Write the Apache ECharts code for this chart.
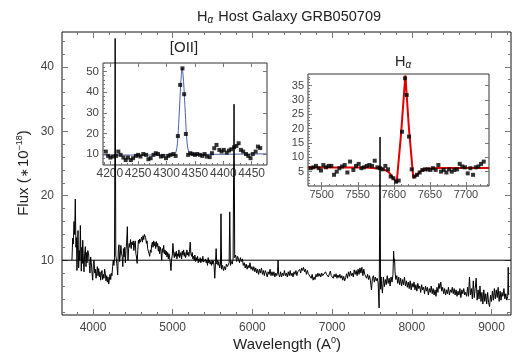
<!DOCTYPE html>
<html><head><meta charset="utf-8">
<script src="https://cdn.jsdelivr.net/npm/echarts@6/dist/echarts.min.js"></script>
<style>html,body{margin:0;padding:0;background:#fff}#c{width:513px;height:356px}</style>
</head><body><div id="c"></div>
<script>
// ---------- main spectrum (wavelength in Angstrom, flux in 1e-18) ----------
const specA = [[3736,10.0],[3745,13.4],[3752,12.5],[3762,16.0],[3770,14.0],[3778,19.5],[3786,12.0],[3792,13.5],[3799,8.4],[3806,12.5],[3812,14.6],[3820,8.8],[3828,11.5],[3835,10.0],[3841,15.4],[3848,11.0],[3853,8.3],[3860,12.0],[3866,9.5],[3871,13.1],[3878,10.5],[3887,8.2],[3895,11.0],[3904,12.1],[3912,9.0],[3918,11.2],[3925,9.6],[3935,11.5],[3946,10.8],[3954,9.2],[3962,8.0],[3970,10.5],[3979,9.6],[3988,8.0],[3996,6.9],[4005,9.5],[4013,10.0],
[4022,8.0],[4030,8.6],[4038,7.2],[4046,8.0],[4055,9.0],[4063,7.6],[4071,8.7],[4080,7.4],[4088,8.2],[4096,6.9],[4105,8.0],[4113,8.4],[4121,7.0],[4130,7.8],[4138,7.2],[4146,8.6],[4155,7.9],[4163,6.8],[4172,7.6],[4180,6.6],[4188,7.4],[4197,6.3],[4205,6.9],[4213,7.8],[4222,7.0],[4230,8.0],[4238,7.6],[4246,9.0],[4254,10.0],[4262,9.2],[4270,10.4],[4278,44.4],[4286,10.8],[4294,10.0],
[4302,9.0],[4310,7.7],[4318,11.6],[4326,12.4],[4334,9.8],[4342,10.8],[4350,12.3],[4358,11.0],[4366,10.6],[4374,9.0],[4382,11.8],[4390,10.5],[4398,12.0],[4406,9.6],[4414,11.5],[4422,12.8],[4431,15.2],[4439,10.0],[4447,11.8],[4455,12.6],[4463,12.0],[4471,13.2],[4480,11.8],[4488,12.8],[4496,12.4],[4505,13.0],[4513,11.5],[4521,12.5],[4530,13.0],[4538,11.0],[4546,10.5],[4554,9.5],[4562,11.5],[4570,13.1],[4578,12.6],[4586,13.3],[4594,12.8]];
const specB = [[4603,13.0],[4612,13.6],[4620,12.8],[4628,13.8],[4637,13.2],[4645,14.0],[4653,14.2],[4661,13.5],[4670,12.6],[4678,13.0],[4686,11.8],[4695,12.0],[4703,11.0],[4711,10.6],[4720,11.6],[4728,11.2],[4736,12.4],[4745,12.8],[4753,12.0],[4761,13.0],[4770,12.2],[4778,12.8],[4786,11.8],[4795,12.9],[4803,12.1],[4811,12.6],[4820,11.4],[4828,12.2],[4836,11.0],[4845,12.0],[4853,11.4],[4862,10.0],[4870,11.8],[4878,11.2],[4887,12.3],[4895,11.0],[4903,11.6],[4912,10.8],[4920,11.4],[4928,10.5],[4937,11.2],[4945,10.2],[4953,11.0],[4962,10.4],[4970,9.6],[4978,8.4],[4987,10.2],[4995,10.8],[5003,12.6],[5012,11.0],[5020,10.4],[5028,11.2],[5037,10.6],[5045,11.4],[5053,10.2],[5062,11.0],[5070,10.6],[5078,11.6],[5087,10.4],[5095,10.8],[5103,11.2],[5112,10.2],[5120,11.4],[5128,10.8],[5137,11.6],[5145,10.6],[5153,11.2],[5162,10.4],[5170,10.8],[5178,11.6],[5187,10.8],[5195,11.2],[5203,10.6],[5212,11.6],[5220,12.8],[5228,11.0],[5237,10.6],[5245,11.2],[5253,10.2],[5262,10.6],[5270,10.0],[5278,10.8],[5287,9.8],[5295,10.4],[5303,10.0],[5312,10.6],[5320,9.6],[5328,10.2],[5337,9.8],[5345,10.4],[5353,9.6],[5362,10.2],[5370,9.8],[5378,10.6],[5387,9.7],[5395,10.0],[5403,9.4],[5412,10.2],[5420,9.6],[5428,10.0],[5437,9.2],[5445,10.4],[5453,9.6],[5462,10.0],[5470,9.4],[5478,9.8],[5487,9.2],[5495,10.0],[5503,9.4],[5512,9.9],[5520,9.0],[5528,7.2],[5537,9.6],[5545,11.8],[5553,9.4],[5562,10.0],[5570,9.2],[5578,9.8]];
const specC = [[5590,8.8],[5600,9.4],[5606,17.2],[5614,8.6],[5626,9.2],[5638,8.4],[5650,9.0],[5662,8.5],[5674,9.4],[5686,9.0],[5698,8.8],[5708,9.6],[5716,17.5],[5724,9.2],[5736,9.8],[5748,9.4],[5758,10.2],[5770,34.2],[5778,10.4],[5790,10.8],[5802,9.8],[5814,10.6],[5826,10.2],[5838,9.6],[5850,10.4],[5862,9.8],[5874,10.2],[5886,9.2],[5898,9.6],[5910,8.8],[5922,9.4],[5934,8.6],[5946,9.2],[5958,8.8],[5970,9.6],[5982,8.6],[5994,9.0],
[6006,8.4],[6018,9.0],[6030,8.2],[6042,8.8],[6054,8.0],[6066,8.6],[6078,7.8],[6090,8.6],[6102,8.0],[6114,8.8],[6126,7.8],[6138,8.4],[6150,7.6],[6162,8.4],[6174,8.0],[6186,7.4],[6198,8.2],[6210,7.8],[6222,8.6],[6234,7.6],[6246,8.2],[6258,7.6],[6270,8.2],[6282,7.4],[6294,8.0],[6306,7.6],[6316,8.2],[6322,10.0],[6330,7.8],[6342,7.4],[6354,8.2],[6366,7.4],[6378,8.0],[6390,7.6],[6402,8.4],[6414,7.6],[6426,8.0],[6438,7.4],[6450,8.2],[6462,7.6],[6474,8.4],[6486,7.6],[6498,8.0],[6510,7.4],[6522,8.2],[6534,7.8],[6546,8.4],[6558,7.6],[6570,8.2]];
const specD = [[6582,8.2],[6594,8.6],[6606,8.0],[6618,8.8],[6630,8.4],[6642,8.9],[6654,8.2],[6666,8.6],[6678,7.8],[6690,8.4],[6702,7.9],[6714,8.2],[6726,7.6],[6738,7.2],[6750,7.8],[6762,6.9],[6774,7.4],[6786,7.0],[6798,7.8],[6810,7.4],[6822,8.0],[6834,7.5],[6846,7.9],[6858,7.4],[6870,8.0],[6882,7.6],[6894,7.9],[6906,7.3],[6918,8.2],[6930,7.8],[6942,8.1],[6954,7.4],[6966,7.9],[6978,8.3],[6990,7.6],[7002,7.9],[7014,7.2],[7026,7.8],[7038,7.4],[7050,7.9],[7062,7.2],[7074,7.7],[7086,7.3],[7098,7.8],[7110,7.2],[7122,7.6],[7134,6.9],[7146,7.5],[7158,6.8],[7170,7.3],[7182,7.9],[7194,7.2],[7206,8.2],[7218,7.5],[7230,8.3],[7242,7.6],[7254,8.0],[7266,7.4],[7278,8.5],[7290,7.8],[7302,8.4],[7314,7.6],[7326,8.6],[7338,7.8],[7350,8.8],[7362,8.0],[7374,8.9],[7386,7.6],[7398,8.6],[7410,7.8],[7422,7.9],[7434,7.2],[7446,7.8],[7458,7.0],[7470,7.6],[7482,6.8],[7494,5.4],[7506,7.2],[7518,7.6],[7530,6.6],[7542,7.4],[7554,6.8],[7566,7.2],[7578,6.5],[7590,2.6],[7596,14.2],[7602,29.1],[7608,5.5],[7616,7.4]];
const specE = [[7620,6.2],[7632,4.9],[7644,7.4],[7656,5.9],[7668,7.0],[7680,6.2],[7692,7.6],[7704,6.4],[7716,7.2],[7728,6.0],[7740,7.4],[7752,6.6],[7764,7.8],[7772,11.4],[7778,9.8],[7784,10.2],[7790,8.2],[7800,7.0],[7812,7.6],[7824,6.4],[7836,7.4],[7848,6.2],[7860,7.2],[7872,6.0],[7884,7.0],[7896,6.2],[7908,7.4],[7920,6.0],[7932,6.8],[7944,5.8],[7956,6.6],[7968,5.6],[7980,6.8],[7992,5.4],[8004,6.4],[8016,5.8],
[8028,6.6],[8040,5.4],[8052,6.2],[8064,5.2],[8076,6.4],[8088,5.6],[8100,6.0],[8112,5.0],[8124,6.2],[8136,5.4],[8148,5.8],[8160,4.8],[8172,6.0],[8184,5.2],[8196,5.8],[8208,4.6],[8220,5.6],[8232,5.0],[8244,6.0],[8256,4.8],[8268,5.6],[8280,4.6],[8292,5.4],[8304,4.4],[8316,5.8],[8328,5.0],[8340,6.4],[8352,5.6],[8364,6.6],[8376,5.2],[8388,5.8],[8400,4.8],[8412,5.6],[8424,4.6],[8436,5.4],[8448,4.8],[8460,5.8],[8472,4.6],[8484,5.4],[8496,5.0],[8508,5.8],[8520,4.8],[8532,5.6],[8544,4.6],[8556,5.4],[8568,4.4],[8580,5.2],[8592,4.6],[8604,5.6],[8616,4.2],[8628,5.4],[8640,4.8],[8652,5.6],[8664,4.6],[8676,5.0],[8688,4.4],[8700,5.8],[8712,4.4],[8724,7.4],[8736,4.6],[8748,5.6],[8760,4.0],[8772,6.8],[8784,4.2],[8796,5.6],[8808,7.2],[8820,3.8],[8832,5.4],[8844,4.0],[8856,6.0],[8868,3.6],[8880,5.0],[8892,3.2],[8904,5.4],[8916,3.6],[8928,4.8],[8940,3.2],[8952,5.0],[8964,3.4],[8976,2.8],[8988,4.6],[9000,3.6],[9012,5.2],[9024,3.8],[9036,5.6],[9048,4.0],[9060,5.4],[9072,4.2],[9084,5.8],[9096,3.6],[9108,5.2],[9120,3.8],[9132,5.0],[9144,4.4],[9156,5.6],[9168,4.0],[9180,4.8],[9192,3.8],[9204,4.4],[9210,8.9],[9216,4.6]];
const refLevel = 10;

// ---------- [OII] inset ----------
const oiiPts = [[4193,11.3],[4197,9.2],[4201,8.4],[4206,8.9],[4211,9.2],[4215,11.3],[4219,9.7],[4224,8.4],[4228,7.2],[4232,8.4],[4237,7.2],[4241,8.1],[4246,9.2],[4250,9.7],[4254,8.9],[4259,10.1],[4264,9.7],[4268,7.6],[4272,8.1],[4277,9.7],[4281,10.5],[4285,10.1],[4290,8.9],[4294,9.2],[4299,8.1],[4303,9.2],[4307,9.7],[4312,10.1],[4316,9.2],[4320,18.8],[4324,43.5],[4328,51.5],[4331,39.0],[4334,19.8],[4338,9.7],[4342,10.5],[4346,10.1],[4350,9.7],[4354,10.1],[4359,9.7],[4363,9.2],[4367,10.1],[4371,8.9],[4376,8.6],[4380,10.5],[4384,12.9],[4388,14.5],[4393,12.1],[4397,11.3],[4401,12.1],[4406,10.8],[4410,11.8],[4414,12.4],[4419,13.4],[4423,14.0],[4427,15.3],[4431,12.1],[4435,11.3],[4440,10.1],[4444,9.2],[4448,8.1],[4452,10.1],[4457,11.3],[4461,13.7],[4465,13.0]];
const oiiFit = [[4188,9.6],[4312,9.7],[4316,10.6],[4319,15],[4322,28],[4325,44],[4327.5,51.5],[4330,45],[4333,30],[4336,16],[4339,11],[4342,9.9],[4477,10.2]];

// ---------- H-alpha inset ----------
const haPts = [[7484.7,6.2],[7488.4,6.5],[7492.1,7.0],[7495.8,6.2],[7499.0,5.4],[7502.3,7.3],[7506.0,6.5],[7509.7,7.0],[7513.4,7.0],[7517.1,3.9],[7520.8,5.0],[7524.5,6.2],[7528.2,6.8],[7531.9,7.3],[7535.6,4.7],[7539.3,8.5],[7543.9,5.6],[7547.6,7.0],[7551.3,7.7],[7555.0,6.2],[7558.7,6.5],[7562.4,7.0],[7566.1,7.3],[7569.8,7.0],[7573.5,8.8],[7577.2,6.5],[7580.9,6.2],[7584.6,5.8],[7588.3,7.0],[7592.0,5.8],[7595.7,3.3],[7599.4,2.7],[7603.1,1.5],[7606.8,1.9],[7611.4,18.9],[7615.6,37.5],[7617.9,31.7],[7621.1,17.2],[7624.8,5.8],[7628.5,3.3],[7632.2,3.9],[7635.9,4.7],[7639.6,5.6],[7643.3,5.8],[7647.0,5.8],[7650.7,5.6],[7654.4,6.2],[7658.1,5.6],[7661.8,7.3],[7665.5,5.0],[7669.2,5.6],[7672.9,4.7],[7676.6,5.8],[7680.3,5.0],[7684.0,5.6],[7687.7,5.8],[7691.4,7.7],[7695.1,6.8],[7698.8,6.5],[7702.5,4.4],[7706.2,6.2],[7709.9,3.9],[7713.6,6.5],[7717.3,6.8],[7721.0,7.7],[7724.7,8.5]];
const haFit = [[7481,6.4],[7560,6.4],[7585,6.0],[7593,4.8],[7600,2.5],[7604,1.3],[7610,18],[7616,38.5],[7621,20],[7627,2.8],[7632,3.8],[7637,5.2],[7645,6.0],[7660,6.3],[7732,6.3]];

// ---------- tick values ----------
const mainXLabels = [4000,5000,6000,7000,8000,9000];
const mainXMinor = [3800,4200,4400,4600,4800,5200,5400,5600,5800,6200,6400,6600,6800,7200,7400,7600,7800,8200,8400,8600,8800,9200];
const mainYLabels = [10,20,30,40];
const mainYMinor = [2,4,6,8,12,14,16,18,22,24,26,28,32,34,36,38,42,44];
const oiiXLabels = [4200,4250,4300,4350,4400,4450];
const oiiXMinor = [4190,4210,4220,4230,4240,4260,4270,4280,4290,4310,4320,4330,4340,4360,4370,4380,4390,4410,4420,4430,4440,4460,4470];
const oiiYLabels = [10,20,30,40,50];
const oiiYMinor = [6,8,12,14,16,18,22,24,26,28,32,34,36,38,42,44,46,48,52,54];
const haXLabels = [7500,7550,7600,7650,7700];
const haXMinor = [7490,7510,7520,7530,7540,7560,7570,7580,7590,7610,7620,7630,7640,7660,7670,7680,7690,7710,7720,7730];
const haYLabels = [5,10,15,20,25,30,35];
const haYMinor = [1,2,3,4,6,7,8,9,11,12,13,14,16,17,18,19,21,22,23,24,26,27,28,29,31,32,33,34,36,37,38];

const FONT = 'Liberation Sans, Arial, sans-serif';
const TICKC = '#777';
function ax(grid, pos, min, max, labels, ticks, len, showLabel, fs, margin) {
  return {
    type: 'value', gridIndex: grid, position: pos, min: min, max: max, offset: 0,
    axisLine: {show: false}, splitLine: {show: false},
    axisTick: {show: true, inside: true, length: len, customValues: ticks, lineStyle: {color: TICKC, width: 1}},
    axisLabel: {show: showLabel, customValues: labels, fontSize: fs, color: '#444', fontFamily: FONT, margin: margin,
      formatter: function (v) { return String(v); }}
  };
}
const X = [
  ax(0,'bottom',3611,9245,mainXLabels,mainXLabels,6,true,12,7),
  ax(0,'bottom',3611,9245,[],mainXMinor,3,false,12,7),
  ax(0,'top',3611,9245,[],mainXLabels,6,false,12,7),
  ax(0,'top',3611,9245,[],mainXMinor,3,false,12,7),
  ax(1,'bottom',4188,4477,oiiXLabels,oiiXLabels,4,true,12,3),
  ax(1,'bottom',4188,4477,[],oiiXMinor,2,false,12,3),
  ax(1,'top',4188,4477,[],oiiXLabels,4,false,12,3),
  ax(2,'bottom',7481,7732,haXLabels,haXLabels,4,true,11,3),
  ax(2,'bottom',7481,7732,[],haXMinor,2,false,11,3),
  ax(2,'top',7481,7732,[],haXLabels,4,false,11,3)
];
const Y = [
  ax(0,'left',1.5,45.4,mainYLabels,mainYLabels,6,true,12,8),
  ax(0,'left',1.5,45.4,[],mainYMinor,3,false,12,8),
  ax(0,'right',1.5,45.4,[],mainYLabels,6,false,12,8),
  ax(0,'right',1.5,45.4,[],mainYMinor,3,false,12,8),
  ax(1,'left',4.8,54.1,oiiYLabels,oiiYLabels,4,true,11.5,4),
  ax(1,'left',4.8,54.1,[],oiiYMinor,2,false,11.5,4),
  ax(1,'right',4.8,54.1,[],oiiYLabels,4,false,11.5,4),
  ax(2,'left',0,39,haYLabels,haYLabels,4,true,11,4),
  ax(2,'left',0,39,[],haYMinor,2,false,11,4),
  ax(2,'right',0,39,[],haYLabels,4,false,11,4)
];

const chart = echarts.init(document.getElementById('c'), null, {renderer: 'canvas'});
chart.setOption({
  animation: false,
  backgroundColor: '#fff',
  grid: [
    {left: 62, top: 32, width: 449, height: 283, show: true, borderColor: '#111', borderWidth: 1, backgroundColor: 'transparent', containLabel: false},
    {left: 103, top: 63, width: 164, height: 102, show: true, borderColor: '#333', borderWidth: 1, backgroundColor: '#fff'},
    {left: 308, top: 74, width: 181, height: 112, show: true, borderColor: '#333', borderWidth: 1, backgroundColor: '#fff'}
  ],
  xAxis: X,
  yAxis: Y,
  series: [
    {type: 'line', xAxisIndex: 0, yAxisIndex: 0, data: [[3611, refLevel], [9245, refLevel]], showSymbol: false, lineStyle: {color: '#000', width: 1}, z: 3},
    {type: 'line', xAxisIndex: 0, yAxisIndex: 0, data: specA.concat(specB, specC, specD, specE), showSymbol: false, sampling: null, lineStyle: {color: '#000', width: 1}, z: 6},
    {type: 'line', xAxisIndex: 4, yAxisIndex: 4, data: oiiFit, showSymbol: false, smooth: 0.3, lineStyle: {color: '#4a62a8', width: 1}, z: 4},
    {type: 'scatter', xAxisIndex: 4, yAxisIndex: 4, data: oiiPts, symbol: 'rect', symbolSize: 4, itemStyle: {color: '#000'}, z: 5},
    {type: 'line', xAxisIndex: 7, yAxisIndex: 7, data: haFit, showSymbol: false, lineStyle: {color: '#e00000', width: 2}, z: 4},
    {type: 'scatter', xAxisIndex: 7, yAxisIndex: 7, data: haPts, symbol: 'rect', symbolSize: 4, itemStyle: {color: '#000'}, z: 5}
  ],
  graphic: [
    {type: 'text', x: 289, y: 17, z: 10, style: {text: '{a|H}{s|α}{a| Host Galaxy GRB050709}', fill: '#222', align: 'center', verticalAlign: 'middle',
      rich: {a: {fontSize: 14.5, fontFamily: FONT, fill: '#222'}, s: {fontSize: 10, fontStyle: 'italic', fontFamily: FONT, fill: '#222', padding: [7, 1, 0, 0]}}}},
    {type: 'text', x: 184, y: 48, z: 10, style: {text: '[OII]', fill: '#222', fontSize: 15, fontFamily: FONT, align: 'center', verticalAlign: 'middle'}},
    {type: 'text', x: 403, y: 62, z: 10, style: {text: '{a|H}{s|α}', fill: '#222', align: 'center', verticalAlign: 'middle',
      rich: {a: {fontSize: 14.5, fontFamily: FONT, fill: '#222'}, s: {fontSize: 10, fontStyle: 'italic', fontFamily: FONT, fill: '#222', padding: [7, 0, 0, 0]}}}},
    {type: 'text', x: 287, y: 345, z: 10, style: {text: '{a|Wavelength (A}{s|0}{a|)}', fill: '#222', align: 'center', verticalAlign: 'middle',
      rich: {a: {fontSize: 15, fontFamily: FONT, fill: '#222'}, s: {fontSize: 9, fontFamily: FONT, fill: '#222', padding: [0, 0, 9, 0]}}}},
    {type: 'text', x: 24, y: 173, rotation: Math.PI / 2, z: 10, style: {text: '{a|Flux (}{m|∗}{a|10}{s|−18}{a|)}', fill: '#222', align: 'center', verticalAlign: 'middle',
      rich: {a: {fontSize: 15, fontFamily: FONT, fill: '#222'}, m: {fontSize: 11, fontFamily: 'DejaVu Sans', fill: '#222', padding: [3, 1, 0, 1]}, s: {fontSize: 9, fontFamily: FONT, fill: '#222', padding: [0, 0, 9, 0]}}}}
  ]
});
</script>
</body></html>
